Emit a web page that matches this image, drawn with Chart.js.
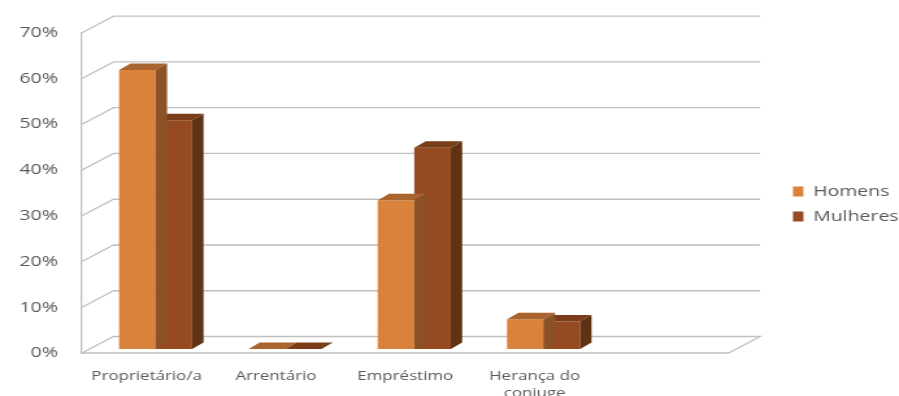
<!DOCTYPE html>
<html>
<head>
<meta charset="utf-8">
<script src="https://cdn.jsdelivr.net/npm/chart.js@4"></script>
<style>
  body { margin: 0; background: #fff; }
</style>
</head>
<body>
<!-- drawn narrow and stretched to 899px, like the source picture -->
<canvas id="chart" width="692" height="396" style="display:block;width:899px;height:396px"></canvas>
<script>
const categories = ["Proprietário/a", "Arrentário", "Empréstimo", ["Herança do", "conjuge"], ""];
const homens = [0.61, 0, 0.325, 0.065, null];
const mulheres = [0.50, 0, 0.44, 0.06, null];
const yTicks = [0, 0.1, 0.2, 0.3, 0.4, 0.5, 0.6, 0.7];

const textColor = "#595959";
const gridColor = "#c0c0c0";
const frontColors = ["#d9823b", "#954a22"];
const topColors = ["#a9652d", "#7a3d1a"];
const sideColors = ["#8b5227", "#5e3213"];

// fake 3d offsets (canvas px)
const wall = { dx: 24.3, dy: -16.5 };
const shift = { dx: 6.9, dy: -4 };
const depth = { dx: 8.8, dy: -6.5 };

const fake3d = {
  id: "fake3d",
  beforeDatasetsDraw(chart) {
    const ctx = chart.ctx;
    const { left, right } = chart.chartArea;
    const y = chart.scales.y;
    ctx.save();
    ctx.strokeStyle = gridColor;
    ctx.lineWidth = 1.3;
    y.ticks.forEach(t => {
      const py = y.getPixelForValue(t.value);
      ctx.beginPath();
      ctx.moveTo(left, py);
      ctx.lineTo(left + wall.dx, py + wall.dy);
      ctx.lineTo(right + wall.dx, py + wall.dy);
      if (t.value === 0) {
        ctx.lineTo(right, py);
        ctx.lineTo(left, py);
      }
      ctx.stroke();
    });
    ctx.restore();
    // bars sit a little behind the front plane
    ctx.save();
    ctx.translate(shift.dx, shift.dy);
  },
  afterDatasetDraw(chart, args) {
    const ctx = chart.ctx;
    const i = args.index;
    const data = chart.data.datasets[i].data;
    args.meta.data.forEach((bar, j) => {
      if (data[j] == null) return;
      const p = bar.getProps(["x", "y", "base", "width"], true);
      const l = p.x - p.width / 2;
      const r = p.x + p.width / 2;
      ctx.fillStyle = topColors[i];
      ctx.beginPath();
      ctx.moveTo(l, p.y);
      ctx.lineTo(l + depth.dx, p.y + depth.dy);
      ctx.lineTo(r + depth.dx, p.y + depth.dy);
      ctx.lineTo(r, p.y);
      ctx.closePath();
      ctx.fill();
      ctx.fillStyle = sideColors[i];
      ctx.beginPath();
      ctx.moveTo(r, p.y);
      ctx.lineTo(r + depth.dx, p.y + depth.dy);
      ctx.lineTo(r + depth.dx, p.base + depth.dy);
      ctx.lineTo(r, p.base);
      ctx.closePath();
      ctx.fill();
    });
  },
  afterDatasetsDraw(chart) {
    chart.ctx.restore();
  }
};

const ctx = document.getElementById("chart").getContext("2d");
const chart = new Chart(ctx, {
  type: "bar",
  data: {
    labels: categories,
    datasets: [
      { label: "Homens", data: homens, backgroundColor: frontColors[0] },
      { label: "Mulheres", data: mulheres, backgroundColor: frontColors[1] }
    ]
  },
  options: {
    responsive: false,
    devicePixelRatio: 1,
    animation: false,
    categoryPercentage: 0.565,
    barPercentage: 1,
    layout: { padding: { top: 12, bottom: 0, left: 0, right: 0 } },
    plugins: {
      tooltip: { enabled: false },
      legend: {
        position: "right",
        maxWidth: 91.6,
        labels: {
          boxWidth: 8,
          boxHeight: 10,
          padding: 10,
          color: textColor,
          font: { family: "Open Sans", size: 15 }
        }
      }
    },
    scales: {
      x: {
        grid: { display: false, drawTicks: false },
        border: { display: false },
        ticks: {
          color: textColor,
          font: { family: "Open Sans", size: 13, lineHeight: 1.3 },
          padding: 14.5,
          maxRotation: 0,
          autoSkip: false
        },
        afterFit: s => { s.height = 43; }
      },
      gapTop: {
        position: "top",
        grid: { display: false, drawTicks: false },
        border: { display: false },
        ticks: { display: false },
        afterFit: s => { s.height = 20.7; }
      },
      y: {
        min: 0,
        max: 0.7,
        grid: { display: false, drawTicks: false },
        border: { display: true, color: gridColor, width: 1.3 },
        afterBuildTicks: s => { s.ticks = yTicks.map(v => ({ value: v })); },
        ticks: {
          color: textColor,
          font: { family: "Open Sans", size: 15 },
          padding: 18.5,
          callback: v => Math.round(v * 100) + "%"
        },
        afterFit: s => { s.width = 63.1; }
      },
      gap: {
        position: "right",
        grid: { display: false, drawTicks: false },
        border: { display: false },
        ticks: { display: false },
        afterFit: s => { s.width = 39.6; }
      }
    }
  },
  plugins: [fake3d]
});
</script>
</body>
</html>
